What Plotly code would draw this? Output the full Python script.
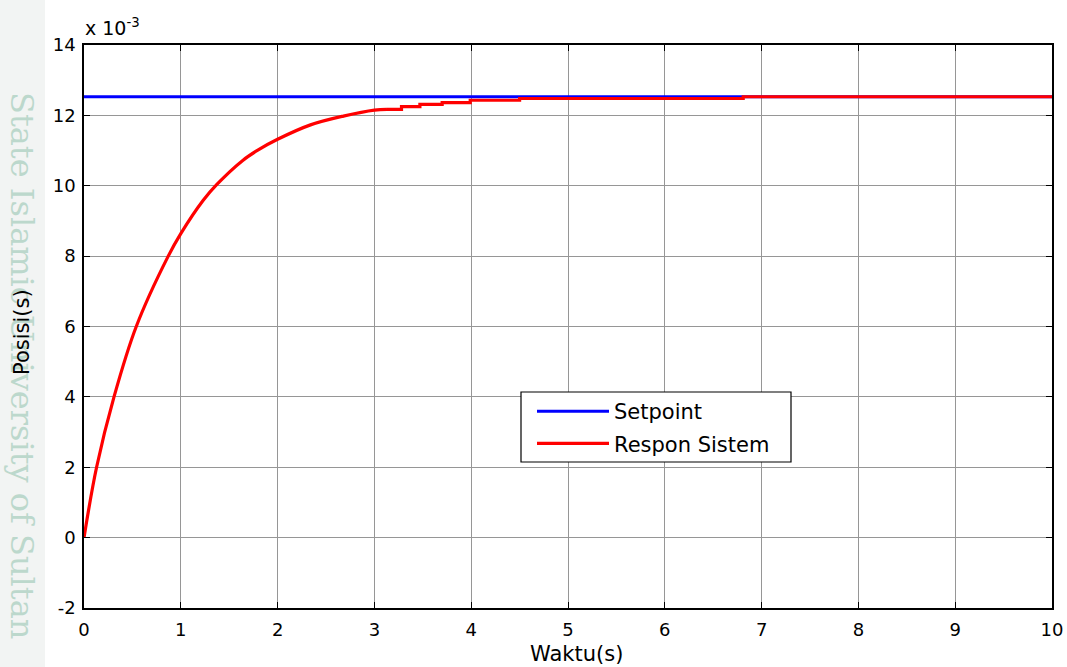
import plotly.graph_objects as go

# ---- data (position values in units of 1e-3) ----
x_ticks = [0, 1, 2, 3, 4, 5, 6, 7, 8, 9, 10]
y_ticks = [-2, 0, 2, 4, 6, 8, 10, 12, 14]
y_tick_text = ["-2", "0", "2", "4", "6", "8", "10", "12", "14"]

setpoint_t = [0, 10]
setpoint_y = [12.53, 12.53]

red_t_smooth = [0, 0.13, 0.31, 0.54, 0.87, 1.0, 1.23, 1.37, 1.64, 1.80, 2.0, 2.34, 2.68, 3.0, 3.13]
red_y_smooth = [0, 2.0, 4.0, 6.0, 8.0, 8.64, 9.58, 10.03, 10.72, 11.02, 11.32, 11.73, 11.98, 12.15, 12.17]

red_t_step = [3.13, 3.28, 3.47, 3.70, 3.99, 4.50, 6.81, 10.0]
red_y_step = [12.17, 12.25, 12.31, 12.36, 12.43, 12.48, 12.53, 12.53]

FONT = "DejaVu Sans, Arial, sans-serif"

fig = go.Figure()
fig.add_trace(go.Scatter(x=setpoint_t, y=setpoint_y, mode="lines", name="Setpoint",
                         line=dict(color="#0000ff", width=3)))
fig.add_trace(go.Scatter(x=red_t_smooth, y=red_y_smooth, mode="lines", name="Respon Sistem",
                         line=dict(color="#ff0000", width=3.2, shape="spline", smoothing=1.0),
                         showlegend=False, legendgroup="r"))
fig.add_trace(go.Scatter(x=red_t_step, y=red_y_step, mode="lines", name="Respon Sistem",
                         line=dict(color="#ff0000", width=3.2, shape="hv"),
                         legendgroup="r"))

W, H = 1067, 667
L, R, T, B = 84, 15, 45, 59
pw, ph = W - L - R, H - T - B
X0, Y1 = L, H - B  # plot area left / bottom in page pixels


def px(xp):
    return (xp - X0) / pw


def py(yp):
    return (Y1 - yp) / ph


axis_common = dict(showline=True, linecolor="black", linewidth=1.5, mirror="allticks",
                   ticks="inside", ticklen=6, tickcolor="black", tickwidth=1,
                   showgrid=True, gridcolor="#969696", gridwidth=1, zeroline=False,
                   automargin=False,
                   tickfont=dict(family=FONT, size=18, color="black"))

fig.update_xaxes(range=[0, 10], tickvals=x_ticks, ticklabelstandoff=5, **axis_common)
fig.update_yaxes(range=[-2, 14], tickvals=y_ticks, ticktext=y_tick_text,
                 ticklabelstandoff=3, **axis_common)

fig.update_layout(
    width=W, height=H,
    margin=dict(l=L, r=R, t=T, b=B, pad=0, autoexpand=False),
    plot_bgcolor="white", paper_bgcolor="white",
    showlegend=True,
    legend=dict(x=px(532), y=py(391), xanchor="left", yanchor="top",
                borderwidth=0, bgcolor="rgba(0,0,0,0)",
                font=dict(family=FONT, size=21, color="black"),
                itemwidth=72, tracegroupgap=2),
    shapes=[
        dict(type="rect", xref="paper", yref="paper",
             x0=px(-2), x1=px(45), y0=py(670), y1=py(-2),
             fillcolor="#f2f4f3", line=dict(width=0), layer="below"),
        dict(type="rect", xref="paper", yref="paper",
             x0=px(521), x1=px(791), y0=py(462), y1=py(392),
             fillcolor="white", line=dict(color="black", width=1.2), layer="above"),
    ],
    annotations=[
        dict(text="State Islamic University of Sultan", textangle=90,
             xref="paper", yref="paper", x=px(22), y=py(365),
             xanchor="center", yanchor="middle", showarrow=False,
             font=dict(family="DejaVu Serif", size=32, color="#bcd8cc")),
        dict(text="x 10<sup>-3</sup>", xref="paper", yref="paper",
             x=px(83), y=py(41), xanchor="left", yanchor="bottom", showarrow=False,
             font=dict(family=FONT, size=19, color="black")),
        dict(text="Waktu(s)", xref="paper", yref="paper",
             x=px(576), y=py(654), xanchor="center", yanchor="middle", showarrow=False,
             font=dict(family=FONT, size=21, color="black")),
        dict(text="Posisi(s)", textangle=-90, xref="paper", yref="paper",
             x=px(22), y=py(332), xanchor="center", yanchor="middle", showarrow=False,
             font=dict(family=FONT, size=21, color="black")),
    ],
)

fig.write_html(
    "out.html",
    config={"displayModeBar": False},
    post_script="document.body.style.margin='0';document.body.style.overflow='hidden';",
)
